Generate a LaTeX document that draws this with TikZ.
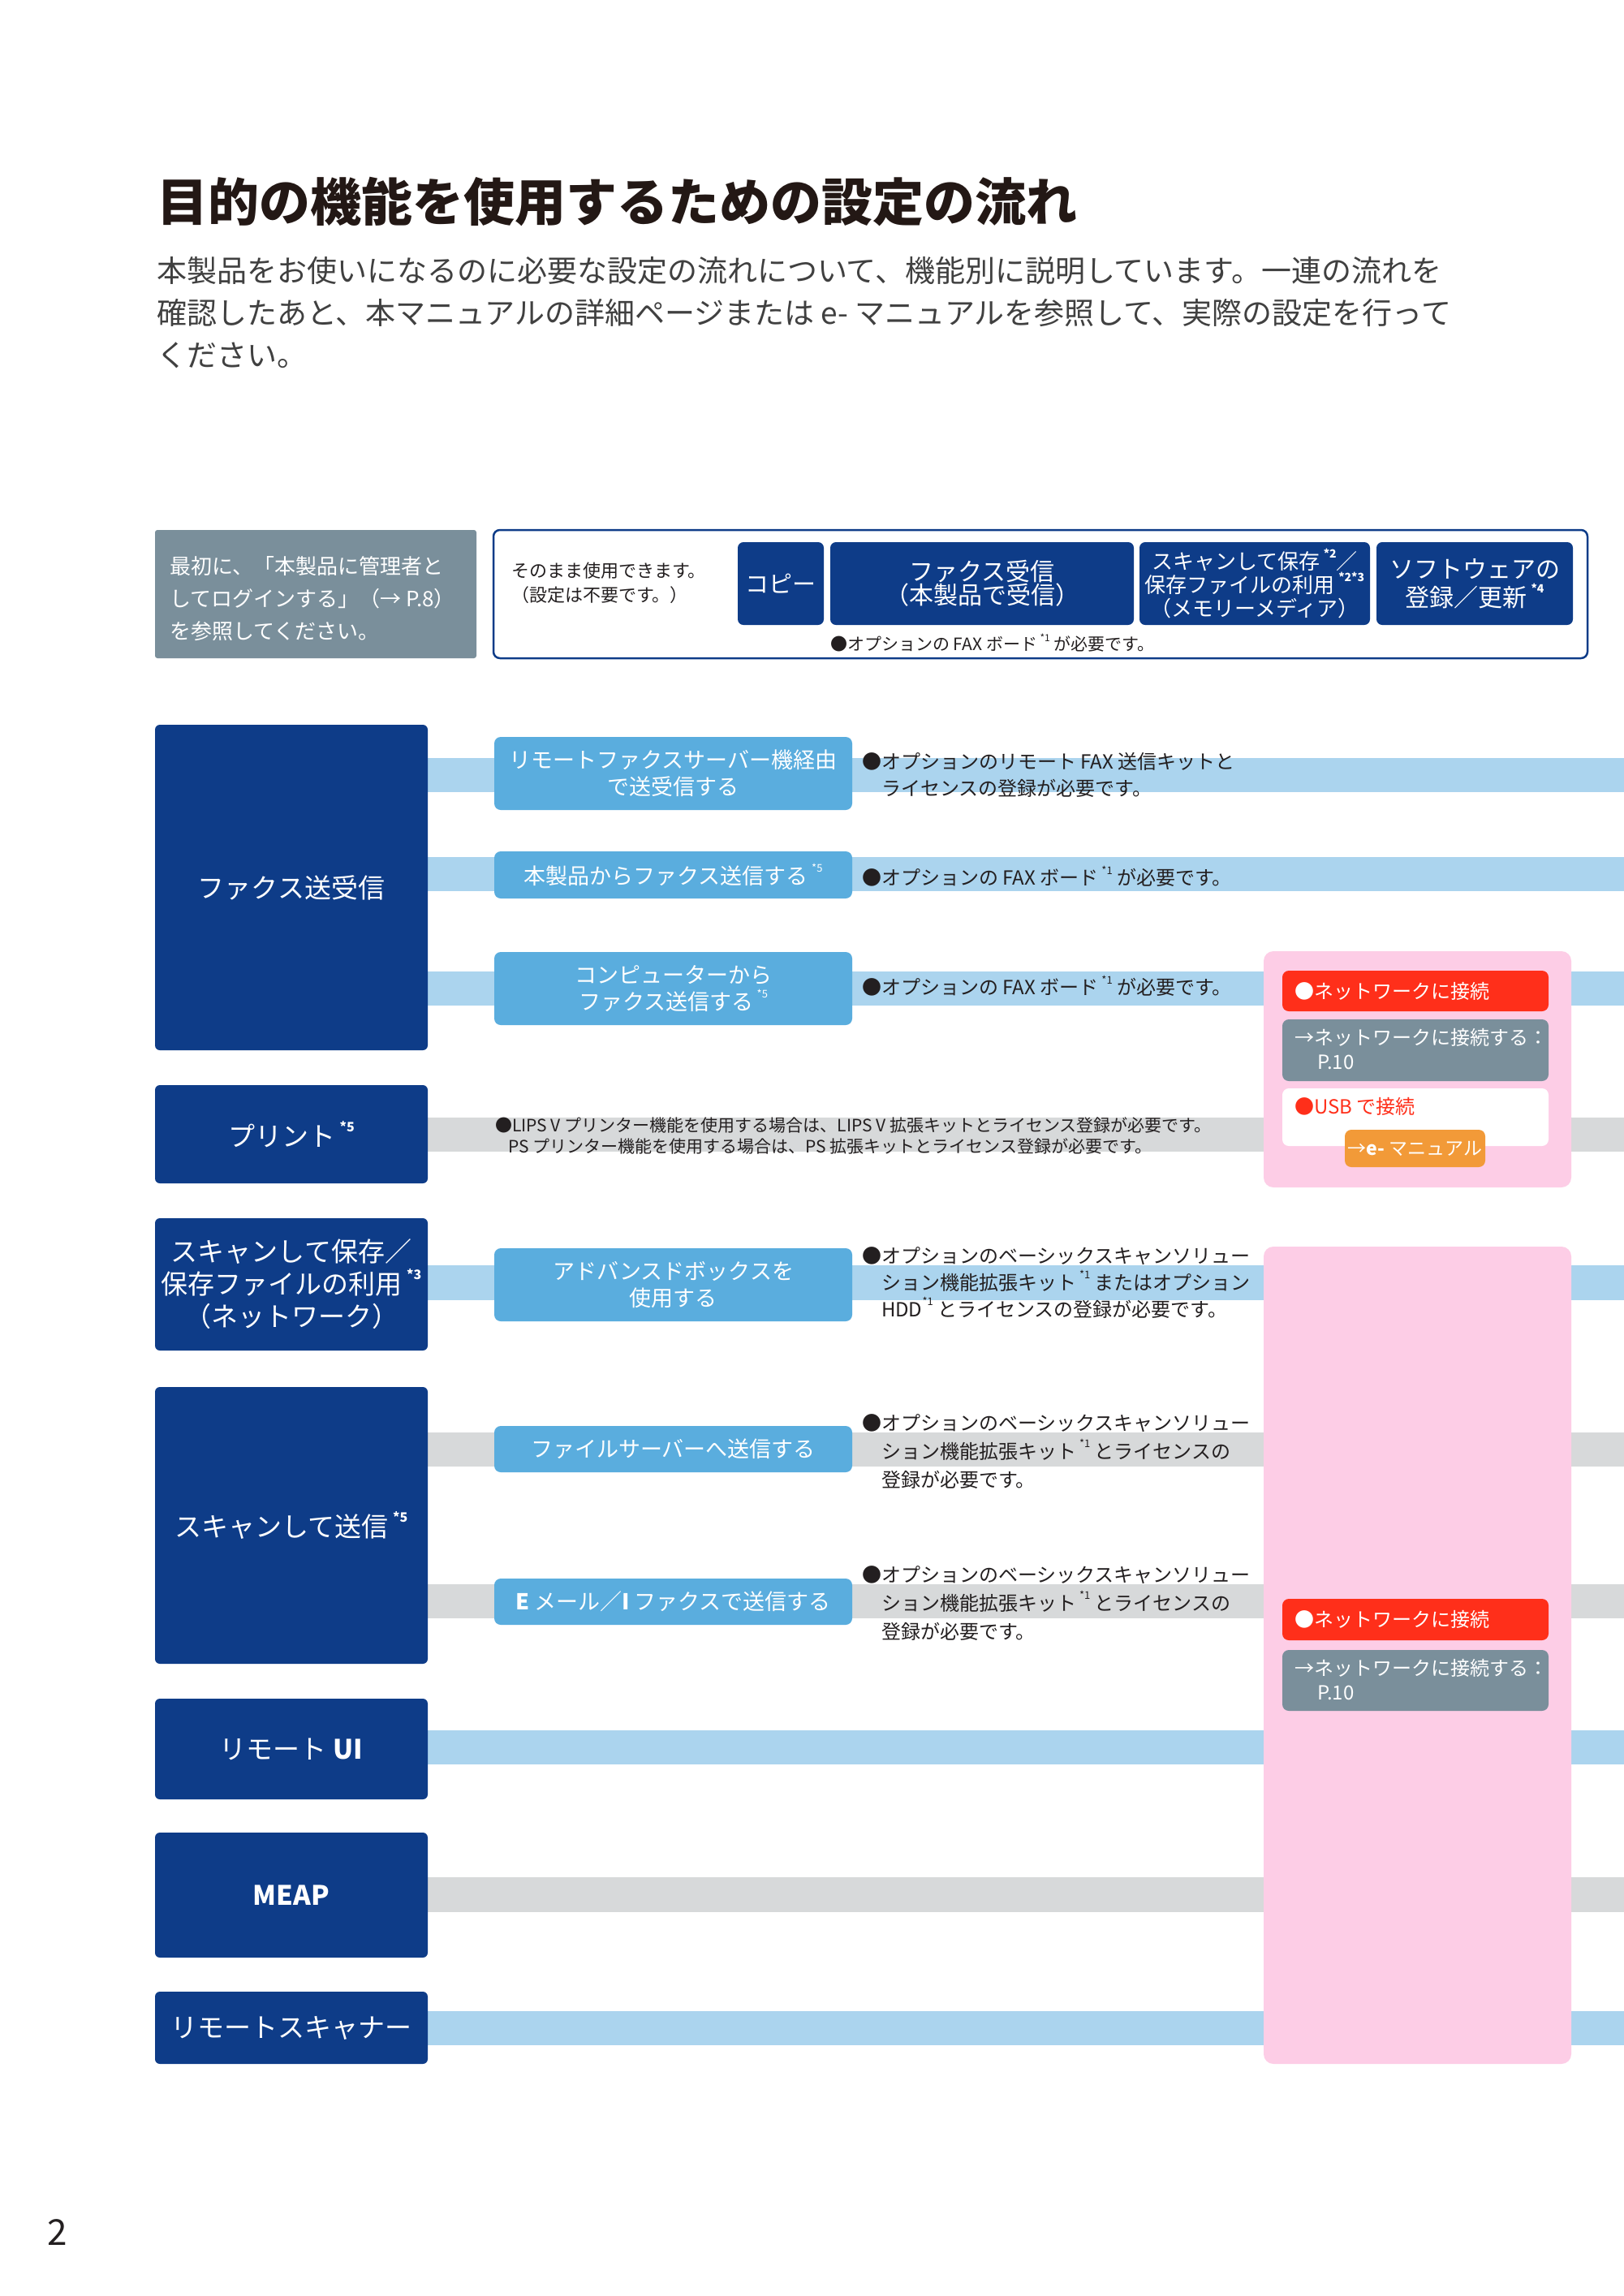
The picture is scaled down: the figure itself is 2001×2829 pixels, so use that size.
\documentclass[tikz,border=0pt]{standalone}
\usepackage{fontspec}
\setmainfont{Noto Sans CJK JP}
\usetikzlibrary{calc}
\pgfdeclarelayer{pagebg}
\pgfdeclarelayer{bg}
\pgfsetlayers{pagebg,bg,main}
\definecolor{navyc}{HTML}{0E3C88}
\definecolor{skyc}{HTML}{5AADDE}
\definecolor{stripeb}{HTML}{ABD4EE}
\definecolor{stripeg}{HTML}{D7D9DA}
\definecolor{slatec}{HTML}{7A8F9B}
\definecolor{pinkc}{HTML}{FDCDE6}
\definecolor{redc}{HTML}{FF2F1A}
\definecolor{orangec}{HTML}{F29A38}
\definecolor{inkc}{HTML}{231F20}
\definecolor{bodyc}{HTML}{404040}
\definecolor{titlec}{HTML}{231815}
\newcommand\fsz[2]{\fontsize{#1}{#2}\selectfont}
\newcommand\supr[2]{\raisebox{0.55em}{\fontsize{#1}{#1}\selectfont #2}}
\tikzset{
  wh/.style 2 args={minimum width=#1, minimum height=#2},
  navybox/.style={fill=navyc, rounded corners=6pt, text=white, align=center, font=\fsz{33}{40}},
  skybox/.style={fill=skyc, rounded corners=8pt, text=white, align=center, font=\fsz{27}{33}},
  topbox/.style={fill=navyc, rounded corners=7pt, text=white, align=center},
  notetxt/.style={anchor=west, align=left, text=inkc, font=\fsz{24}{34}},
  pinkpanel/.style={fill=pinkc, rounded corners=12pt},
  redtag/.style={fill=redc, rounded corners=8pt},
  slatetag/.style={fill=slatec, rounded corners=8pt},
  whitetag/.style={fill=white, rounded corners=8pt},
  orangetag/.style={fill=orangec, rounded corners=8pt, text=white, font=\fsz{23}{23}},
  tagtxt/.style={anchor=west, align=left, font=\fsz{24}{30}}
}
\begin{document}
\begin{tikzpicture}[x=1pt,y=-1pt,every node/.style={inner sep=0pt,outer sep=0pt}]
\useasboundingbox (0,0) rectangle (2001,2829);
\begin{pgfonlayer}{pagebg}
\fill[white] (0,0) rectangle (2001,2829);
\end{pgfonlayer}

% title and intro
\node[anchor=west,text=titlec,font=\fsz{63}{70}\bfseries] (title) at (193,249) {目的の機能を使用するための設定の流れ};
\node[anchor=west,align=left,text=bodyc,font=\fsz{37}{52}] (intro) at (193,385) {本製品をお使いになるのに必要な設定の流れについて、機能別に説明しています。一連の流れを\\確認したあと、本マニュアルの詳細ページまたは e- マニュアルを参照して、実際の設定を行って\\ください。};

% login box
\node[fill=slatec,rounded corners=3pt,wh={396}{158}] (login) at (389,732) {};
\node[anchor=west,align=left,text=white,font=\fsz{26}{40}] (logintxt) at (209,738) {最初に、「本製品に管理者と\\してログインする」（→ P.8）\\を参照してください。};

% frame with ready functions
\node[draw=navyc,line width=2.5pt,rounded corners=8pt,wh={1348}{158}] (frame) at (1282,732) {};
\node[anchor=west,align=left,text=inkc,font=\fsz{22}{30}] (asis) at (630,718) {そのまま使用できます。\\（設定は不要です。）};
\node[topbox,wh={106}{102},font=\fsz{29}{30}] (copy) at (962,719) {コピー};
\node[topbox,wh={374}{102},font=\fsz{30}{28}] (faxrecv) at (1210,719) {ファクス受信\\（本製品で受信）};
\node[topbox,wh={284}{102},font=\fsz{26}{29}] (memscan) at (1546,719) {スキャンして保存\,\supr{14}{\bfseries *2}／\\保存ファイルの利用\,\supr{14}{\bfseries *2*3}\\（メモリーメディア）};
\node[topbox,wh={242}{102},font=\fsz{30}{35}] (soft) at (1817,719) {ソフトウェアの\\登録／更新\,\supr{14}{\bfseries *4}};
\node[anchor=west,text=inkc,font=\fsz{21}{24}] (faxnote) at (1023,792) {●オプションの FAX ボード\,\supr{12}{*1} が必要です。};

% function boxes
\node[navybox,wh={336}{401}] (fax) at (359,1093.5) {ファクス送受信};
\node[navybox,wh={336}{121}] (print) at (359,1397.5) {プリント\,\supr{16}{\bfseries *5}};
\node[navybox,wh={336}{163}] (scanstore) at (359,1582.5) {スキャンして保存／\\保存ファイルの利用\,\supr{16}{\bfseries *3}\\（ネットワーク）};
\node[navybox,wh={336}{341}] (scansend) at (359,1879.5) {スキャンして送信\,\supr{16}{\bfseries *5}};
\node[navybox,wh={336}{124}] (rui) at (359,2155) {リモート {\bfseries UI}};
\node[navybox,wh={336}{154}] (meap) at (359,2335) {{\bfseries MEAP}};
\node[navybox,wh={336}{89}] (rscan) at (359,2498.5) {リモートスキャナー};

% stripes
\begin{pgfonlayer}{bg}
\fill[stripeb] (fax.east |- 0,934) rectangle (2001,976);
\fill[stripeb] (fax.east |- 0,1056) rectangle (2001,1098);
\fill[stripeb] (fax.east |- 0,1197) rectangle (2001,1239);
\fill[stripeg] (print.east |- 0,1377) rectangle (2001,1419);
\fill[stripeb] (scanstore.east |- 0,1559) rectangle (2001,1602);
\fill[stripeg] (scansend.east |- 0,1765) rectangle (2001,1807);
\fill[stripeg] (scansend.east |- 0,1952) rectangle (2001,1994);
\fill[stripeb] (rui.east |- 0,2132) rectangle (2001,2174);
\fill[stripeg] (meap.east |- 0,2313) rectangle (2001,2356);
\fill[stripeb] (rscan.east |- 0,2478) rectangle (2001,2520);
\end{pgfonlayer}

% pink panels
\node[pinkpanel,wh={379}{291}] (pinkup) at (1746.5,1317.5) {};
\node[pinkpanel,wh={379}{1007}] (pinklow) at (1746.5,2039.5) {};

% sub boxes
\node[skybox,wh={441}{90}] (remotefax) at (829.5,953) {リモートファクスサーバー機経由\\で送受信する};
\node[skybox,wh={441}{58}] (devfax) at (829.5,1078) {本製品からファクス送信する\,\supr{13}{*5}};
\node[skybox,wh={441}{90}] (pcfax) at (829.5,1218) {コンピューターから\\ファクス送信する\,\supr{13}{*5}};
\node[skybox,wh={441}{90}] (advbox) at (829.5,1583) {アドバンスドボックスを\\使用する};
\node[skybox,wh={441}{57}] (fileserv) at (829.5,1785.5) {ファイルサーバーへ送信する};
\node[skybox,wh={441}{57}] (email) at (829.5,1973.5) {{\bfseries E} メール／{\bfseries I} ファクスで送信する};

% notes
\node[notetxt,font=\fsz{24}{33}] (noteremote) at (1062,954.5) {●オプションのリモート FAX 送信キットと\\\hspace*{1em}ライセンスの登録が必要です。};
\node[notetxt] (notedev) at (1062,1080) {●オプションの FAX ボード\,\supr{13}{*1} が必要です。};
\node[notetxt] (notepc) at (1062,1215) {●オプションの FAX ボード\,\supr{13}{*1} が必要です。};
\node[notetxt,font=\fsz{21}{26}] (noteprint) at (610,1399) {●LIPS V プリンター機能を使用する場合は、LIPS V 拡張キットとライセンス登録が必要です。\\\hspace*{16pt}PS プリンター機能を使用する場合は、PS 拡張キットとライセンス登録が必要です。};
\node[notetxt,font=\fsz{24}{33}] (noteadv) at (1062,1580) {●オプションのベーシックスキャンソリュー\\\hspace*{1em}ション機能拡張キット\,\supr{13}{*1} またはオプション\\\hspace*{1em}HDD\supr{13}{*1} とライセンスの登録が必要です。};
\node[notetxt,font=\fsz{24}{35}] (notefile) at (1062,1788) {●オプションのベーシックスキャンソリュー\\\hspace*{1em}ション機能拡張キット\,\supr{13}{*1} とライセンスの\\\hspace*{1em}登録が必要です。};
\node[notetxt,font=\fsz{24}{35}] (notemail) at (1062,1975) {●オプションのベーシックスキャンソリュー\\\hspace*{1em}ション機能拡張キット\,\supr{13}{*1} とライセンスの\\\hspace*{1em}登録が必要です。};

% tags in upper pink panel
\node[redtag,wh={328}{50}] (net1) at (1744,1221) {};
\node[tagtxt,text=white] (net1t) at (1595,1221) {●ネットワークに接続};
\node[slatetag,wh={328}{76}] (netref1) at (1744,1294) {};
\node[tagtxt,text=white] (netref1t) at (1595,1293) {→ネットワークに接続する：\\\hspace*{28pt}P.10};
\node[whitetag,wh={328}{71}] (usb) at (1744,1376.5) {};
\node[tagtxt,text=redc] (usbt) at (1595,1363) {●USB で接続};
\node[orangetag,wh={173}{46}] (eman) at (1743.5,1415) {→{\bfseries e-} マニュアル};

% tags in lower pink panel
\node[redtag,wh={328}{51}] (net2) at (1744,1995.5) {};
\node[tagtxt,text=white] (net2t) at (1595,1995.5) {●ネットワークに接続};
\node[slatetag,wh={328}{75}] (netref2) at (1744,2070.5) {};
\node[tagtxt,text=white] (netref2t) at (1595,2070) {→ネットワークに接続する：\\\hspace*{28pt}P.10};

% page number
\node[text=inkc,font=\fsz{44}{48}] (pageno) at (71,2750) {2};
\end{tikzpicture}
\end{document}
